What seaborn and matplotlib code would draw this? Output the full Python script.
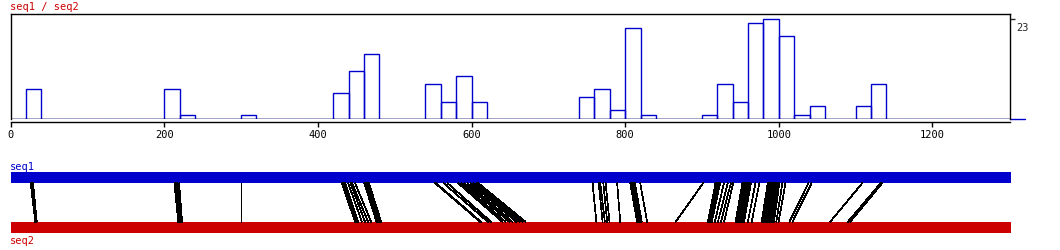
import numpy as np
import pandas as pd
import matplotlib
matplotlib.use("Agg")
import matplotlib.pyplot as plt
import matplotlib.transforms as mtransforms
from matplotlib.collections import LineCollection
import seaborn as sns

# ---------------- data ----------------
title = "seq1 / seq2"
seq_names = ["seq1", "seq2"]
seq_lengths = [1301, 1301]
bin_width = 20
bin_starts = [20, 200, 220, 300, 420, 440, 460, 540, 560, 580, 600, 740, 760, 780,
              800, 820, 900, 920, 940, 960, 980, 1000, 1020, 1040, 1100, 1120]
bin_counts = [7, 7, 1, 1, 6, 11, 15, 8, 4, 10, 4, 5, 7, 2,
              21, 1, 1, 8, 4, 22, 23, 19, 1, 3, 3, 8]
x_ticks = [0, 200, 400, 600, 800, 1000, 1200]
y_max_label = 23

# alignment links: position on seq1 -> position on seq2
seq1_pos = [26, 27, 28, 29,
            213, 215, 217, 219,
            299,
            431, 432, 433, 434, 435, 439, 442, 444, 448,
            460, 461, 462, 463, 464, 465, 466,
            552, 553, 563, 568, 582, 586, 590, 594, 598, 602, 606, 608,
            757, 765, 767, 771, 774, 789,
            806, 807, 808, 809, 810, 811, 812, 819,
            901, 917, 918, 919, 920, 921, 922, 923, 928, 933, 937, 940,
            952, 953, 954, 955, 956, 957, 958, 959, 960, 961, 962, 963, 969, 974,
            985, 986, 987, 988, 989, 990, 991, 992, 993, 994, 995, 996, 997, 998,
            999, 1000, 1004, 1008,
            1038, 1042, 1108, 1132, 1134]
seq2_pos = [32, 33, 33, 34,
            218, 220, 222, 223,
            299,
            448, 449, 450, 451, 452, 457, 461, 465, 469,
            476, 477, 478, 479, 480, 481, 482,
            611, 612, 621, 625, 640, 644, 649, 653, 658, 662, 666, 670,
            762, 770, 773, 776, 779, 793,
            815, 816, 817, 818, 819, 820, 821, 828,
            865, 907, 908, 909, 910, 910, 911, 912, 916, 920, 924, 928,
            943, 944, 945, 946, 947, 948, 949, 950, 951, 952, 953, 954, 959, 964,
            977, 978, 979, 980, 981, 982, 983, 984, 985, 986, 987, 988, 989, 990,
            991, 993, 996, 999,
            1013, 1017, 1066, 1089, 1092]

BLUE = "#0000CC"
RED = "#CC0000"

# ---------------- style ----------------
sns.set_style("white")
plt.rcParams["font.family"] = ["DejaVu Sans Mono", "DejaVu Sans"]
plt.rcParams["font.size"] = 7.5

W, H = 1060, 251
fig = plt.figure(figsize=(W / 100, H / 100), dpi=100)

def fx(px):
    return px / W

def fy(py):
    return 1 - py / H

# ---------------- top histogram ----------------
ax = fig.add_axes([fx(10.7), fy(120), fx(1010) - fx(10.7), fy(15) - fy(120)])
df = pd.DataFrame({"pos": np.array(bin_starts) + bin_width / 2, "count": bin_counts})
sns.histplot(data=df, x="pos", weights="count", binwidth=bin_width,
             binrange=(0, 1300), fill=False,
             color=BLUE, linewidth=1.0, ax=ax)
ax.set_xlim(0, seq_lengths[0])
ax.set_ylim(0, 24.15)
ax.set_xlabel("")
ax.set_ylabel("")
ax.axhline(0, color="black", lw=1.0, zorder=5)

for s in ["left", "right", "top", "bottom"]:
    ax.spines[s].set_visible(True)
    ax.spines[s].set_color("black")
    ax.spines[s].set_linewidth(1.0)
ax.spines["bottom"].set_position(("outward", 2.4))

ax.set_xticks(x_ticks)
ax.set_xticklabels([str(t) for t in x_ticks])
ax.tick_params(axis="x", bottom=True, direction="out", length=3.3, width=1.0,
               pad=1.2, labelsize=7.5, colors="black")
ax.yaxis.tick_right()
ax.set_yticks([y_max_label])
ax.set_yticklabels([str(y_max_label)])
ax.tick_params(axis="y", right=True, left=False, direction="out", length=3.6,
               width=1.0, pad=1.0, labelsize=7.5)
shift = mtransforms.ScaledTranslation(0, -3 / 100, fig.dpi_scale_trans)
for lbl in ax.get_yticklabels():
    lbl.set_va("top")
    lbl.set_transform(lbl.get_transform() + shift)

# blue baseline stub to the right of the frame
trans = mtransforms.blended_transform_factory(ax.transAxes, ax.transData)
ax.plot([1.0, 1.015], [0, 0], color=BLUE, lw=1.0, transform=trans, clip_on=False)

fig.text(fx(10), fy(7), title, color=RED, fontsize=7.5, va="center", ha="left")

# ---------------- bottom alignment panel ----------------
ax2 = fig.add_axes([fx(10.7), fy(234), fx(1010.7) - fx(10.7), fy(173) - fy(234)])
ax2.set_xlim(0, seq_lengths[0])
ax2.set_ylim(0, 61)
bar_h = 11
y_seq1 = 61 - bar_h / 2
y_seq2 = bar_h / 2
ax2.barh([y_seq1, y_seq2], seq_lengths, height=bar_h, left=0,
         color=[BLUE, RED], edgecolor="none")
segs = [[(a, 61 - bar_h), (b, bar_h)] for a, b in zip(seq1_pos, seq2_pos)]
ax2.add_collection(LineCollection(segs, colors="black", linewidths=0.5,
                                  antialiaseds=False))
ax2.axis("off")

fig.text(fx(10), fy(167), seq_names[0], color=BLUE, fontsize=7.5, va="center", ha="left")
fig.text(fx(10), fy(241), seq_names[1], color=RED, fontsize=7.5, va="center", ha="left")

fig.savefig("out.png", dpi=100)
